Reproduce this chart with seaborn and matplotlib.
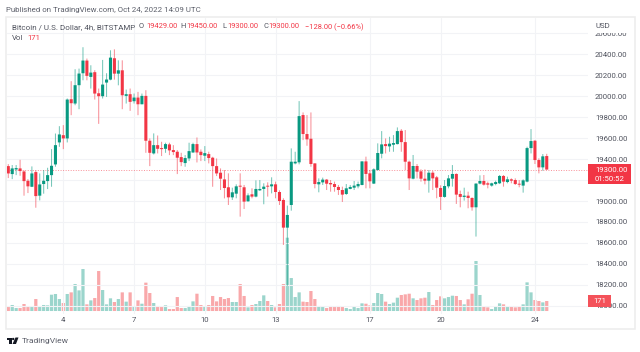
import numpy as np
import pandas as pd
import matplotlib
matplotlib.use("Agg")
import matplotlib.pyplot as plt
from matplotlib.patches import Rectangle, Polygon, Circle
from matplotlib.transforms import blended_transform_factory
import seaborn as sns

opens = [19333,19257,19301,19311,19282,19193,19136,19276,19051,19162,19190,19247,19349,19559,19628,19597,19971,19930,20105,20219,
         20340,20184,20229,20028,20000,20130,20158,20362,20215,20247,20003,20019,19952,19987,19923,20003,19575,19454,19533,19505,
         19498,19540,19486,19470,19419,19362,19406,19463,19543,19470,19432,19448,19413,19333,19270,19206,19131,19035,19070,19146,
         19131,18997,19064,19042,19102,19115,19146,19140,19159,19086,19010,18746,18962,19359,19369,19820,19639,19594,19359,19159,
         19178,19204,19172,19162,19134,19105,19067,19115,19127,19140,19153,19378,19264,19166,19296,19451,19543,19521,19537,19543,
         19670,19562,19375,19213,19334,19283,19213,19194,19270,19226,19124,19039,19140,19213,19258,19067,19039,19051,19029,18940,
         19166,19191,19169,19147,19162,19169,19239,19181,19207,19200,19162,19147,19185,19505,19575,19391,19321,19429]
highs = [19352,19343,19343,19393,19292,19209,19330,19292,19263,19295,19317,19495,19644,19714,19724,19978,20143,20257,20263,20467,
         20359,20295,20248,20073,20346,20219,20438,20447,20342,20342,20063,20073,20025,20041,20025,20057,19597,19645,19625,19565,
         19556,19556,19533,19486,19460,19438,19556,19556,19606,19492,19524,19470,19422,19406,19311,19295,19264,19127,19159,19264,
         19153,19073,19121,19197,19200,19169,19178,19226,19185,19102,19026,18956,19502,19470,19953,19845,19820,19845,19359,19216,
         19223,19210,19200,19185,19153,19137,19162,19153,19191,19185,19378,19423,19296,19312,19550,19667,19597,19613,19629,19702,
         19686,19677,19385,19439,19353,19302,19302,19296,19286,19239,19150,19200,19248,19343,19264,19099,19127,19089,19035,19169,
         19245,19248,19185,19175,19194,19248,19248,19232,19216,19216,19200,19207,19518,19686,19581,19407,19448,19450]
lows = [19219,19209,19247,19241,19051,19076,19133,18936,19006,19070,19114,19136,19327,19517,19495,19559,19819,19914,19876,20152,
        20152,20073,19968,19736,19978,19993,20152,20158,20104,19876,19930,19860,19930,19819,19923,19460,19333,19444,19454,19429,
        19460,19438,19438,19257,19333,19327,19381,19460,19368,19381,19381,19359,19136,19238,19105,19025,18962,19010,19026,18851,
        18924,18994,19026,19035,19096,18969,19042,19073,19026,18962,18581,18191,18908,19350,19350,19581,19527,19327,19121,19083,
        19153,19105,19089,19089,19058,18991,19058,19112,19105,19121,19150,19121,19121,19162,19289,19407,19454,19470,19470,19540,
        19470,19296,19105,19207,19216,19185,19159,19080,19105,19026,18915,19032,19121,19137,18972,18940,19004,18931,18908,18661,
        19159,19147,19121,19137,19150,19162,19137,19169,19169,19153,19131,19080,19178,19454,19353,19264,19289,19300]
closes = [19263,19311,19314,19286,19190,19140,19263,19047,19158,19193,19247,19336,19533,19635,19597,19968,19933,20105,20216,20340,
          20194,20225,20025,20000,20111,20159,20368,20215,20247,20009,20019,19946,19987,19923,20003,19575,19460,19533,19498,19495,
          19543,19483,19467,19413,19371,19410,19476,19543,19463,19438,19457,19410,19333,19263,19213,19124,19035,19083,19140,19137,
          18994,19054,19042,19115,19115,19137,19137,19159,19086,19000,18746,18867,19375,19375,19810,19639,19588,19353,19162,19181,
          19204,19165,19159,19134,19105,19061,19121,19134,19147,19162,19378,19258,19188,19302,19458,19540,19524,19547,19553,19667,
          19562,19375,19216,19334,19280,19213,19194,19270,19216,19127,19039,19143,19216,19258,19061,19039,19051,19029,18940,19166,
          19191,19156,19156,19169,19181,19239,19185,19207,19194,19162,19156,19197,19505,19572,19391,19321,19426,19300]
volumes = [68,103,51,51,120,68,68,205,86,103,97,279,291,205,137,291,319,462,353,718,
           114,182,222,684,359,114,217,154,205,319,160,319,86,182,125,485,308,137,86,68,
           97,34,34,239,51,51,86,165,296,103,86,103,257,165,239,205,222,154,154,462,
           257,63,103,120,171,268,171,103,63,120,462,1254,564,239,319,160,154,342,205,86,
           68,51,86,68,86,68,51,34,68,51,131,125,97,137,308,291,160,120,143,228,
           274,285,296,217,188,217,228,325,103,188,251,217,239,262,257,188,114,200,296,855,
           274,80,63,34,80,131,114,68,80,63,80,114,490,319,188,171,148,171]
day_labels = ["4", "7", "10", "13", "17", "20", "24"]
day_positions = [14, 32, 50, 68, 92, 110, 134]
price_ticks = list(range(18000, 20800, 200))
covered_tick = 19200
change_text = "\u2212128.00 (\u22120.66%)"

GREEN, RED = "#089981", "#f23645"
VOL_GREEN, VOL_RED = "#9bd5cc", "#f9a8aa"
TXT = "#50535e"
W, H = 640, 352
FS = 5.6
LFS = 5.4

sns.set_theme(style="white")
plt.rcParams["font.family"] = ["Roboto", "DejaVu Sans"]

df = pd.DataFrame({"i": np.arange(len(closes)), "o": opens, "h": highs, "l": lows,
                   "c": closes, "v": volumes})
df["up"] = df.c >= df.o

fig = plt.figure(figsize=(W / 100, H / 100), dpi=100, facecolor="white")
rect = [7 / W, (H - 314) / H, 581 / W, 296 / H]
ax_vol = fig.add_axes(rect, zorder=1)
ax = fig.add_axes(rect, zorder=2)
ax.patch.set_visible(False)

# volume pane: one bar per candle, tinted by the candle's direction
sns.barplot(data=df, x="i", y="v", native_scale=True, width=0.82, saturation=1,
            linewidth=0, color=VOL_GREEN, errorbar=None, ax=ax_vol)
for p, up in zip(ax_vol.patches, df.up):
    p.set_facecolor(VOL_GREEN if up else VOL_RED)
    p.set_snap(False)
ax_vol.set_xlim(-0.33, 147.5)
ax_vol.set_ylim(-51, 5010)
ax_vol.set_axis_off()

# price pane
ax.set_xlim(-0.33, 147.5)
ax.set_ylim(17922, 20746)
for c, d in ((GREEN, df[df.up]), (RED, df[~df.up])):
    wicks = ax.vlines(d.i, d.l, d.h, color=c, lw=0.75, alpha=0.55, zorder=3)
    wicks.set_snap(False)
    bars = ax.bar(d.i, (d.c - d.o).abs().clip(lower=9), bottom=d[["o", "c"]].min(axis=1),
                  width=0.78, color=c, linewidth=0, zorder=4)
    for b in bars:
        b.set_snap(False)

ax.set_yticks(price_ticks)
ax.set_yticklabels(["" if p == covered_tick else f"{p:.2f}" for p in price_ticks])
ax.yaxis.tick_right()
ax.set_xticks(day_positions)
ax.set_xticklabels(day_labels)
ax.tick_params(axis="both", length=0, labelsize=FS, labelcolor=TXT)
ax.tick_params(axis="y", pad=5)
ax.tick_params(axis="x", pad=2.5)
ax.grid(True, color="#f2f3f6", lw=0.8)
ax.set_axisbelow(True)
for s in ax.spines.values():
    s.set_visible(False)

# last price line and tags
last = closes[-1]
ax.axhline(last, color=RED, lw=0.7, ls=(0, (1, 1.6)), alpha=0.55, zorder=2.6)
per_px = (ax.get_ylim()[1] - ax.get_ylim()[0]) / 296
tr = ax.get_yaxis_transform()
ax.add_patch(Rectangle((1.0, last - 14.5 * per_px), 43 / 581, 20 * per_px, transform=tr,
                       facecolor=RED, edgecolor="none", clip_on=False, zorder=6))
ax.text(1 + 7 / 581, last, f"{last:.2f}", transform=tr, color="white", fontsize=FS,
        va="center", ha="left", zorder=7, clip_on=False)
ax.text(1 + 7 / 581, last - 9.5 * per_px, "01:50:52", transform=tr, color="white", fontsize=FS,
        va="center", ha="left", zorder=7, clip_on=False)
vtr = blended_transform_factory(ax.transAxes, ax_vol.transData)
vol_per_px = (5010 + 51) / 296
ax.add_patch(Rectangle((1.0, volumes[-1] - 6 * vol_per_px), 23 / 581, 12 * vol_per_px, transform=vtr,
                       facecolor="#f4525a", edgecolor="none", clip_on=False, zorder=6))
ax.text(1 + 11.5 / 581, volumes[-1], f"{volumes[-1]}", transform=vtr, color="white", fontsize=FS,
        va="center", ha="center", zorder=7, clip_on=False)

# outer frame, header mask
fig.add_artist(Rectangle((6 / W, (H - 329) / H), 629 / W, 312 / H, transform=fig.transFigure,
                         facecolor="none", edgecolor="#ececec", lw=1.1, zorder=5))
fig.add_artist(Rectangle((589 / W, (H - 33.2) / H), 45 / W, 15 / H, transform=fig.transFigure,
                         facecolor="white", edgecolor="none", zorder=5))


def txt(x, y, s, color=TXT, size=LFS):
    fig.text(x / W, (H - y) / H, s, color=color, fontsize=size, ha="left", va="center", zorder=8)


txt(6.5, 10, "Published on TradingView.com, Oct 24, 2022 14:09 UTC", "#5d606b", 5.7)
txt(12, 27, "Bitcoin / U.S. Dollar, 4h, BITSTAMP", TXT, 5.75)
for x0, lab, x1, val in ((139, "O", 146, opens[-1]), (180.5, "H", 186.5, highs[-1]),
                         (222, "L", 227.5, lows[-1]), (263, "C", 268.5, closes[-1])):
    txt(x0, 27, lab)
    txt(x1, 27, f"{val:.2f}", RED)
txt(305, 27, change_text, RED)
txt(12, 38.5, "Vol", TXT, 5.6)
txt(27.5, 38.5, f"{volumes[-1]}", RED, 5.6)
txt(595, 26.5, "USD", TXT, FS)
txt(22, 340.5, "TradingView", "#5d606b", 6.1)

# logo
lg = fig.add_axes([0, 0, 1, 1], zorder=9)
lg.set_xlim(0, W)
lg.set_ylim(H, 0)
lg.set_axis_off()
lg.patch.set_visible(False)
lg.add_patch(Polygon([(6.5, 337.5), (12, 337.5), (12, 344), (9, 344), (9, 340), (6.5, 340)], color="#131722", lw=0))
lg.add_patch(Circle((13.2, 339), 1.2, color="#131722", lw=0))
lg.add_patch(Polygon([(15.5, 337.5), (18.5, 337.5), (16, 344), (12.5, 344)], color="#131722", lw=0))

fig.savefig("out.png", dpi=100, facecolor="white")
